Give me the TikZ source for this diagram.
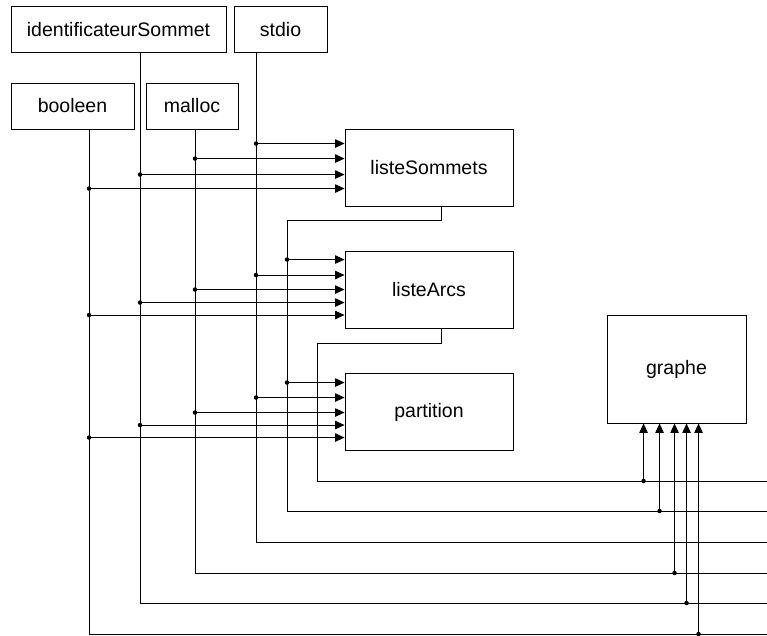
\documentclass[tikz,border=0pt]{standalone}
\usepackage{fontspec}
\setmainfont{Liberation Sans}
\usetikzlibrary{arrows.meta}

% arrow from a vertical bus into the left side of a module, #3 pt below its top
\newcommand\sidefeed[3]{%
  \path ([yshift=-#3pt]#2.north west) coordinate (tap);
  \draw[feed] (#1 |- tap) node[junction]{} -- (tap);}
% arrow from a horizontal bus up into the bottom of a module, #3 pt from its left
\newcommand\upfeed[3]{%
  \path ([xshift=#3pt]#2.south west) coordinate (tap);
  \draw[feed] (tap |- #1) node[junction]{} -- (tap);}

\begin{document}
\begin{tikzpicture}[x=1pt,y=-1pt,
  modbox/.style={draw, line width=0.9pt, inner sep=0pt,
    font=\fontsize{19.5}{22}\selectfont},
  link/.style={line width=0.9pt},
  feed/.style={line width=0.9pt, -{Triangle[length=9.5pt,width=8.5pt]}},
  junction/.style={circle, fill, inner sep=0pt, minimum size=4.5pt}]
\useasboundingbox (0,0) rectangle (767,635);

% modules
\node[modbox, minimum width=215pt, minimum height=46pt] (ident)  at (118.5,29.5)  {identificateurSommet};
\node[modbox, minimum width=93pt,  minimum height=46pt] (stdio)  at (280.5,29.5)  {stdio};
\node[modbox, minimum width=123pt, minimum height=46pt] (bool)   at (72.5,106)  {booleen};
\node[modbox, minimum width=92pt,  minimum height=46pt] (malloc) at (192,106)   {malloc};
\node[modbox, minimum width=168pt, minimum height=77pt] (lS)     at (429,167.5) {listeSommets};
\node[modbox, minimum width=168pt, minimum height=77pt] (lA)     at (429,289.5) {listeArcs};
\node[modbox, minimum width=168pt, minimum height=77pt] (part)   at (429,412)   {partition};
\node[modbox, minimum width=139pt, minimum height=108pt] (graphe) at (676.5,369) {graphe};

% bus corners and the right edge
\coordinate (busB)  at (89,634);
\coordinate (busI)  at (140,603);
\coordinate (busM)  at (195,573);
\coordinate (busS)  at (256,542);
\coordinate (busLS) at (287,511);
\coordinate (busLA) at (317,481);
\coordinate (edge)  at (767,0);

% buses
\draw[link] (bool.south -| busB)   |- (busB -| edge);
\draw[link] (ident.south -| busI)  |- (busI -| edge);
\draw[link] (malloc.south -| busM) |- (busM -| edge);
\draw[link] (stdio.south -| busS)  |- (busS -| edge);
\draw[link] ([xshift=12pt]lS.south) -- ++(0,14) -| (busLS) -- (busLS -| edge);
\draw[link] ([xshift=12pt]lA.south) -- ++(0,15) -| (busLA) -- (busLA -| edge);

% listeSommets
\sidefeed{busS}{lS}{15}
\sidefeed{busM}{lS}{30}
\sidefeed{busI}{lS}{46}
\sidefeed{busB}{lS}{60}

% listeArcs
\sidefeed{busLS}{lA}{9}
\sidefeed{busS}{lA}{24.5}
\sidefeed{busM}{lA}{39}
\sidefeed{busI}{lA}{52}
\sidefeed{busB}{lA}{64.5}

% partition
\sidefeed{busLS}{part}{9.5}
\sidefeed{busS}{part}{24.5}
\sidefeed{busM}{part}{39.5}
\sidefeed{busI}{part}{52}
\sidefeed{busB}{part}{64.5}

% graphe
\upfeed{busLA}{graphe}{37}
\upfeed{busLS}{graphe}{53}
\upfeed{busM}{graphe}{68}
\upfeed{busI}{graphe}{80}
\upfeed{busB}{graphe}{92}
\end{tikzpicture}
\end{document}
